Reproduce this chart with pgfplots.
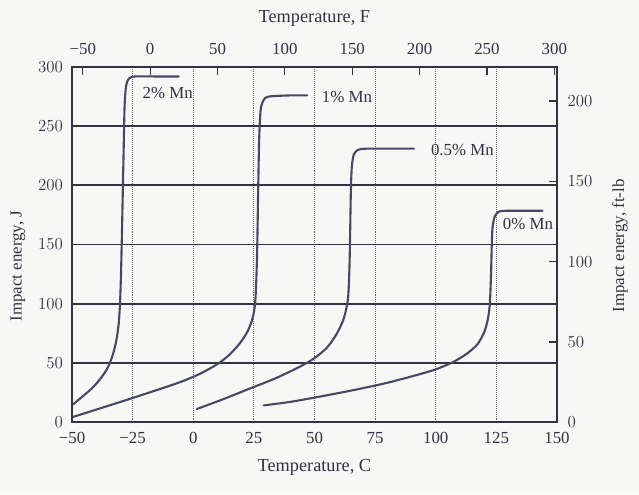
\documentclass[border=0pt]{standalone}
\usepackage{pgfplots}
\pgfplotsset{compat=1.18}
\usepackage{fontspec}
\setmainfont{Liberation Serif}

\definecolor{ink}{RGB}{50,50,66}
\definecolor{curve}{RGB}{72,72,100}
\definecolor{dots}{RGB}{105,105,112}
\definecolor{paper}{RGB}{247,247,245}

% plot box: 485 x 355 px at 0.025 cm per px
\pgfplotsset{
  box/.style={
    at={(0,0)}, anchor=south west,
    scale only axis, width=12.125cm, height=8.875cm,
    axis line style={ink, line width=1.3pt},
    tick label style={font=\fontsize{12}{14}\selectfont, text=ink},
  },
  mn/.style={curve, line width=1.5pt, smooth, tension=0.45, line cap=round, mark=none},
}

\begin{document}
\begin{tikzpicture}
\fill[paper] (-1.8,-1.8) rectangle (14.175,10.55);
\useasboundingbox (-1.8,-1.8) rectangle (14.175,10.55);

% Celsius / joule axis
\begin{axis}[box,
  xmin=-50, xmax=150, ymin=0, ymax=300,
  xtick={-50,-25,...,150},
  xticklabels={−50,−25,0,25,50,75,100,125,150},
  ytick={0,50,...,300},
  major tick length=0pt,
  xmajorgrids, ymajorgrids,
  x grid style={dots, densely dotted, line width=0.7pt},
  y grid style={ink, line width=1.2pt},
  xticklabel style={yshift=-4pt},
  yticklabel style={xshift=-3pt},
]
% 2% Mn
\addplot[mn] coordinates {
  (-49.5,15) (-46,21) (-42,28) (-38.5,36) (-35.5,45) (-33.3,56)
  (-31.8,68) (-30.8,82) (-30.2,100) (-29.8,125) (-29.4,160)
  (-29,200) (-28.6,240) (-28.3,268) (-27.7,284) (-26.6,290)
  (-24,292) (-15,292) (-6,292)
};
% 1% Mn
\addplot[mn] coordinates {
  (-50,4) (-30,17) (-15,27) (-5,34) (3,41) (10,49) (15,57) (19.4,67)
  (22.5,77) (24.5,88) (25.5,100) (26,120) (26.4,150) (26.8,200)
  (27.2,240) (27.8,264) (29,272) (31,275) (40,276) (47,276)
};
% 0.5% Mn
\addplot[mn] coordinates {
  (1.5,11) (12,19) (23.6,28.5) (34,37) (44.2,47) (50,54) (55.2,63)
  (59,74) (62,87) (63.8,104) (64.4,130) (64.7,160) (65,196)
  (65.4,216) (66.2,226) (68,230) (72,231) (91,231)
};
% 0% Mn
\addplot[mn] coordinates {
  (29,14) (40,17) (51,21) (65,26.5) (78.7,32.5) (90,38.5) (99.3,44)
  (107,50.5) (113,58) (117.3,66) (120,76) (121.5,87) (122.3,100)
  (122.8,125) (123.1,150) (123.4,164) (124.2,173) (125.8,177.5)
  (129,178.5) (144,178.5)
};
\node[font=\fontsize{12}{14}\selectfont, text=ink] at (axis cs:-10.5,278) {2\% Mn};
\node[font=\fontsize{12}{14}\selectfont, text=ink, anchor=west] at (axis cs:51,275) {1\% Mn};
\node[font=\fontsize{12}{14}\selectfont, text=ink, anchor=west] at (axis cs:96,230) {0.5\% Mn};
\node[font=\fontsize{12}{14}\selectfont, text=ink] at (axis cs:138,167) {0\% Mn};
\end{axis}

% Fahrenheit / ft-lb axis
\begin{axis}[box,
  xmin=-58, xmax=302, ymin=0, ymax=221.27,
  xtick={-50,0,...,300},
  xticklabels={−50,0,50,100,150,200,250,300},
  ytick={0,50,...,200},
  xtick pos=right, xticklabel pos=right,
  ytick pos=right, yticklabel pos=right,
  x tick style={ink, line width=0.8pt},
  y tick style={ink, line width=1.2pt},
  xtick align=inside, ytick align=inside,
  major tick length=0.2cm,
  xticklabel style={yshift=5pt},
  yticklabel style={xshift=4pt},
]
\end{axis}

\node[font=\fontsize{13}{15}\selectfont, text=ink] at (6.06,-1.125) {Temperature, C};
\node[font=\fontsize{13}{15}\selectfont, text=ink] at (6.06,10.1) {Temperature, F};
\node[font=\fontsize{12}{14}\selectfont, text=ink, rotate=90] at (-1.35,3.9) {Impact energy, J};
\node[font=\fontsize{12}{14}\selectfont, text=ink, rotate=90] at (13.7,4.4) {Impact energy, ft-lb};
\end{tikzpicture}
\end{document}
